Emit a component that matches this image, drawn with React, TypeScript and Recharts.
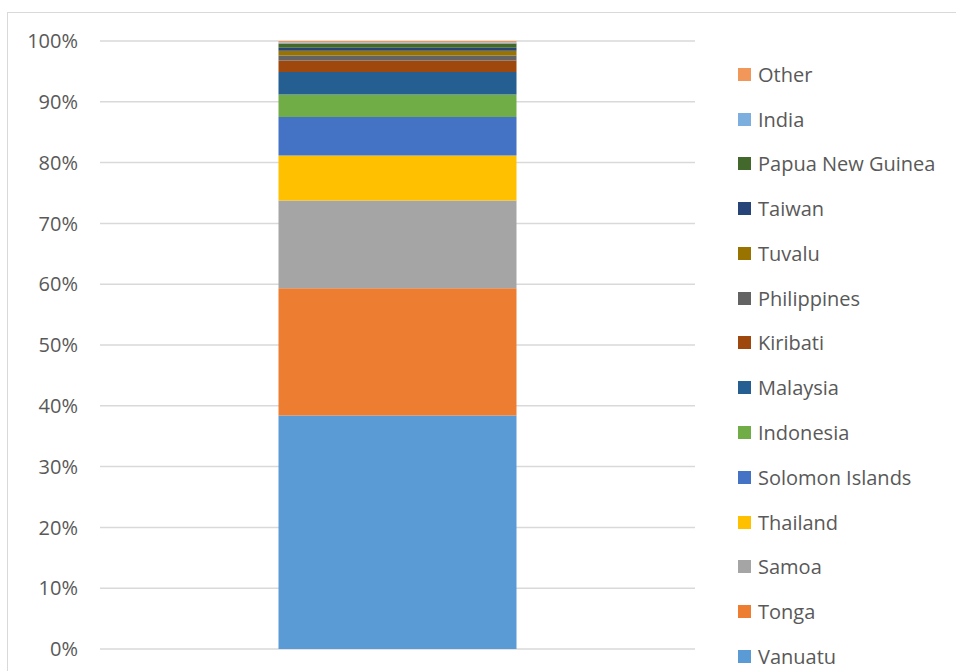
import React from 'react';
import { BarChart, Bar, XAxis, YAxis, CartesianGrid, Legend } from 'recharts';

const categories = ['Share'];
const seriesNames = ['Vanuatu', 'Tonga', 'Samoa', 'Thailand', 'Solomon Islands', 'Indonesia', 'Malaysia', 'Kiribati', 'Philippines', 'Tuvalu', 'Taiwan', 'Papua New Guinea', 'India', 'Other'];
const seriesValues = [38.35, 20.9, 14.4, 7.4, 6.3, 3.7, 3.7, 1.9, 0.8, 0.8, 0.5, 0.7, 0.15, 0.25];
const seriesColors = ['#5B9BD5', '#ED7D31', '#A5A5A5', '#FFC000', '#4472C4', '#70AD47', '#255E91', '#9E480E', '#636363', '#997300', '#264478', '#43682B', '#7CAFDD', '#F1975A'];
const yTicks = [0, 0.1, 0.2, 0.3, 0.4, 0.5, 0.6, 0.7, 0.8, 0.9, 1];

const data = categories.map((c) => {
  const row: Record<string, any> = { name: c };
  seriesNames.forEach((s, i) => { row[s] = seriesValues[i]; });
  return row;
});

const FONT = '"Open Sans", sans-serif';

const LegendContent = () => {
  const items = seriesNames.map((n, i) => ({ n, c: seriesColors[i] })).reverse();
  return (
    <div style={{ fontFamily: FONT, fontSize: 20, color: '#595959' }}>
      {items.map((it) => (
        <div key={it.n} style={{ height: 44.77, display: 'flex', alignItems: 'center', whiteSpace: 'nowrap' }}>
          <span style={{ display: 'inline-block', width: 13, height: 13, background: it.c, marginRight: 7 }} />
          <span>{it.n}</span>
        </div>
      ))}
    </div>
  );
};

export default function App() {
  return (
    <div style={{ position: 'fixed', left: 0, top: 0, width: 956, height: 671, overflow: 'hidden', background: '#fff' }}>
      <div style={{ position: 'absolute', left: 7, top: 12, width: 1000, height: 700, border: '1.5px solid #d9d9d9' }} />
      <div style={{ position: 'absolute', left: 0, top: 0 }}>
        <BarChart width={956} height={671} data={data} stackOffset="expand" barCategoryGap="30%"
          margin={{ top: 41, right: 43, bottom: 22, left: 0 }}>
          <CartesianGrid horizontal vertical={false} stroke="#d9d9d9" strokeWidth={1.5} />
          <XAxis dataKey="name" hide />
          <YAxis width={100} domain={[0, 1]} ticks={yTicks} axisLine={false} tickLine={false} tickMargin={16}
            tickFormatter={(v: number) => `${Math.round(v * 100)}%`}
            tick={{ fill: '#595959', fontSize: 20, fontFamily: FONT }} interval={0} />
          <Legend layout="vertical" align="right" verticalAlign="top" content={<LegendContent />}
            wrapperStyle={{ left: 738, top: 52, width: 218 }} />
          {seriesNames.map((s, i) => (
            <Bar key={s} dataKey={s} stackId="a" fill={seriesColors[i]} isAnimationActive={false} />
          ))}
        </BarChart>
      </div>
    </div>
  );
}
